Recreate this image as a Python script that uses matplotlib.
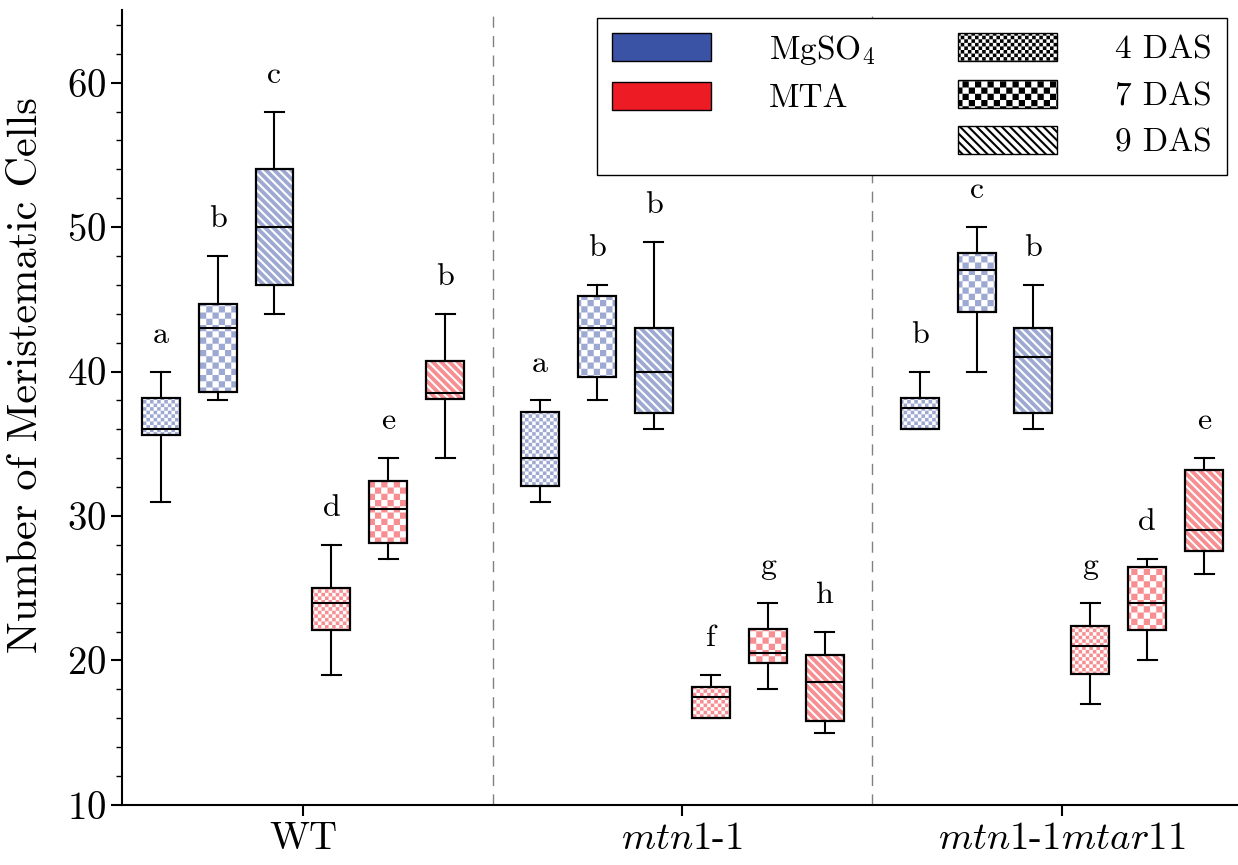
import numpy as np
import matplotlib
matplotlib.use('Agg')
import matplotlib.pyplot as plt
import matplotlib.hatch as mhatch
import matplotlib.patches as mpatches
from matplotlib.path import Path
from matplotlib.colors import to_rgb

plt.rcParams['font.family'] = 'serif'
plt.rcParams['font.serif'] = ['cmr10']
plt.rcParams['mathtext.fontset'] = 'cm'
plt.rcParams['axes.formatter.use_mathtext'] = True
plt.rcParams['hatch.linewidth'] = 1.5

# data
groups = ['WT', r'$\mathit{mtn1}$-$\mathit{1}$', r'$\mathit{mtn1}$-$\mathit{1mtar11}$']
treatments = ['MgSO$_4$', 'MTA']
days = ['4 DAS', '7 DAS', '9 DAS']
# order inside a group: MgSO4 4/7/9 DAS, MTA 4/7/9 DAS
whislo = [31, 38, 44, 19, 27, 34,
          31, 38, 36, 16, 18, 15,
          36, 40, 36, 17, 20, 26]
q1 = [35.6, 38.6, 46, 22.1, 28.1, 38.1,
      32.1, 39.6, 37.1, 16, 19.8, 15.8,
      36, 44.1, 37.1, 19.1, 22.1, 27.6]
med = [36, 43, 50, 24, 30.5, 38.5,
       34, 43, 40, 17.5, 20.5, 18.5,
       37.5, 47, 41, 21, 24, 29]
q3 = [38.2, 44.7, 54, 25, 32.4, 40.7,
      37.2, 45.2, 43, 18.2, 22.2, 20.4,
      38.2, 48.2, 43, 22.4, 26.5, 33.2]
whishi = [40, 48, 58, 28, 34, 44,
          38, 46, 49, 19, 24, 22,
          40, 50, 46, 24, 27, 34]
letters = ['a', 'b', 'c', 'd', 'e', 'b',
           'a', 'b', 'b', 'f', 'g', 'h',
           'b', 'c', 'b', 'g', 'd', 'e']

solid = ['#3A53A4', '#ED1C24']
hatches = ['o', 'O', '\\\\\\\\']


# checkerboard hatch: 'o' small squares, 'O' big squares
class CheckerHatch(mhatch.HatchPatternBase):
    def __init__(self, hatch, density):
        self.n = 28 if 'o' in hatch else (16 if 'O' in hatch else 0)
        self.num_vertices = (self.n * self.n // 2) * 5

    def set_vertices_and_codes(self, vertices, codes):
        step = 1.0 / self.n
        shrink = 0.0104
        sq = []
        for i in range(self.n):
            for j in range(self.n):
                if (i + j) % 2 == 0:
                    x0, y0 = i * step + shrink, j * step + shrink
                    x1, y1 = (i + 1) * step - shrink, (j + 1) * step - shrink
                    sq.append([(x0, y0), (x1, y0), (x1, y1), (x0, y1), (x0, y0)])
        vertices[:] = np.array(sq).reshape(-1, 2)
        codes[:] = np.tile([Path.MOVETO, Path.LINETO, Path.LINETO,
                            Path.LINETO, Path.CLOSEPOLY], len(sq))


mhatch._hatch_types = [h for h in mhatch._hatch_types
                       if h not in (mhatch.SmallCircles, mhatch.LargeCircles)] + [CheckerHatch]


def pale(c):
    r, g, b = to_rgb(c)
    return ((r + 1) / 2, (g + 1) / 2, (b + 1) / 2)


fig = plt.figure(figsize=(12.38, 8.65), dpi=100)
ax = fig.add_axes([0.0985, 0.0694, 0.9015, 0.9186])

stats = []
positions = []
for g in range(len(groups)):
    for k in range(6):
        i = g * 6 + k
        stats.append(dict(whislo=whislo[i], q1=q1[i], med=med[i], q3=q3[i],
                          whishi=whishi[i], fliers=[]))
        positions.append(g + (k - 2.5) * 0.15)

lp = dict(color='black', linewidth=1.5)
bp = ax.bxp(stats, positions=positions, widths=0.1, capwidths=0.05,
            patch_artist=True, showfliers=False,
            medianprops=lp, whiskerprops=lp, capprops=lp)

for i, box in enumerate(bp['boxes']):
    k = i % 6
    box.set_facecolor(pale(solid[k // 3]))
    box.set_edgecolor('white')
    box.set_linewidth(0)
    box.set_hatch(hatches[k % 3])
    ax.add_patch(mpatches.PathPatch(box.get_path(), fill=False, edgecolor='black',
                                    linewidth=1.6, zorder=2.05))
    ax.text(positions[i], whishi[i] + 2.0, letters[i], ha='center',
            va='baseline', fontsize=23)

ax.axvline(0.5, color='gray', lw=1, ls=(0, (8, 6)), zorder=0)
ax.axvline(1.5, color='gray', lw=1, ls=(0, (8, 6)), zorder=0)

ax.set_xlim(-0.477, 2.464)
ax.set_ylim(10, 65)
ax.set_xticks(range(len(groups)), groups)
ax.set_yticks(np.arange(10, 61, 10))
ax.set_yticks(np.arange(10, 65, 2), minor=True)
ax.tick_params(axis='both', which='major', length=8, width=1.5, labelsize=28)
ax.tick_params(axis='y', which='minor', length=4, width=1)
ax.spines['top'].set_visible(False)
ax.spines['right'].set_visible(False)
ax.spines['left'].set_linewidth(1.5)
ax.spines['bottom'].set_linewidth(1.5)
ax.set_ylabel('Number of Meristematic Cells', fontsize=30.5)
ax.yaxis.set_label_coords(-0.069, 0.541)

handles = [mpatches.Patch(facecolor=c, edgecolor='black', linewidth=1) for c in solid]
handles.append(mpatches.Patch(facecolor='none', edgecolor='none'))
handles += [mpatches.Patch(facecolor='white', edgecolor='black', linewidth=1, hatch=h)
            for h in hatches]
labels = treatments + [''] + days
leg = ax.legend(handles, labels, ncol=2, loc='upper right', bbox_to_anchor=(0.99, 0.991),
                borderaxespad=0, fontsize=24, handlelength=2.97, handleheight=0.93,
                handletextpad=1.74, columnspacing=2.5, labelspacing=0.45,
                borderpad=0.45, fancybox=False, framealpha=1, edgecolor='black')
leg.get_frame().set_linewidth(1)

plt.savefig('out.png', dpi=100)
